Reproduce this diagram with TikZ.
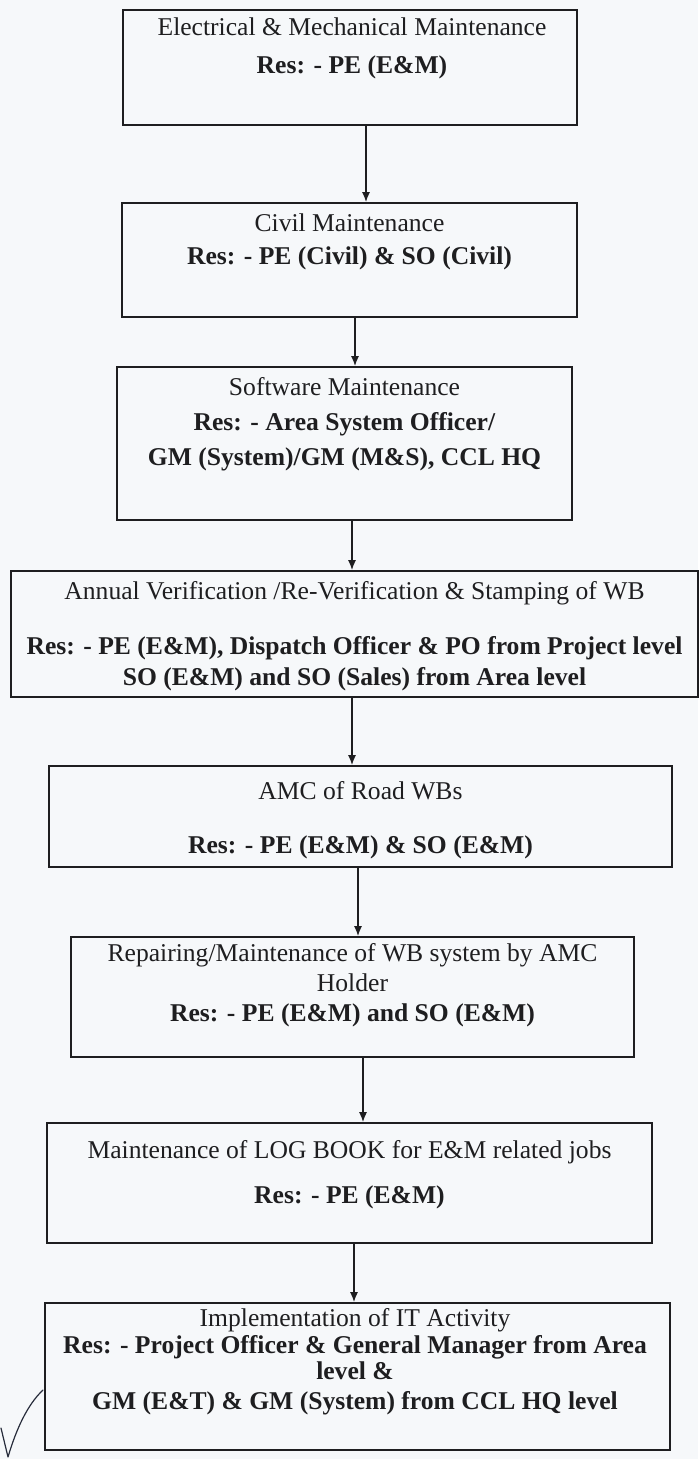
\documentclass[tikz,border=0pt]{standalone}
\usepackage{fontspec}
\setmainfont{Liberation Serif}
\usepackage{tikz}
\usetikzlibrary{arrows.meta,positioning}
\definecolor{scanwhite}{RGB}{246,248,250}
\definecolor{inkblack}{RGB}{30,30,32}
\definecolor{penblue}{RGB}{40,45,60}

\begin{document}
\begin{tikzpicture}[x=0.5pt,y=-0.5pt, >={Latex[length=5pt,width=4pt]}]
  \tikzstyle{stage}=[rectangle, draw=inkblack, line width=0.8pt, inner sep=0pt]
  \tikzstyle{duty}=[align=center, inner sep=0pt, text=inkblack, font=\fontsize{12.8}{14.5}\selectfont]
  \tikzstyle{flow}=[->, draw=inkblack, line width=0.8pt]
  \fill[scanwhite] (0,0) rectangle (698,1459);
  \useasboundingbox (0,0) rectangle (698,1459);
  % boxes
  \node[stage, minimum width=227pt, minimum height=57.5pt] (em) at (350,67.5) {};
  \node[stage, minimum width=227.5pt, minimum height=57pt] (civ) at (349.5,260) {};
  \node[stage, minimum width=227.5pt, minimum height=76.5pt] (sw) at (344.5,443.5) {};
  \node[stage, minimum width=343.5pt, minimum height=63pt] (wb) at (354.5,634) {};
  \node[stage, minimum width=311.5pt, minimum height=50.5pt] (amc) at (360.5,816.5) {};
  \node[stage, minimum width=281.5pt, minimum height=60pt] (rep) at (352.5,997) {};
  \node[stage, minimum width=302.5pt, minimum height=60pt] (log) at (349.5,1183) {};
  \node[stage, minimum width=312.5pt, minimum height=73.5pt] (it) at (357.5,1376.5) {};
  % texts
  \node[duty] (em-txt) at (352,48) {Electrical \& Mechanical Maintenance\\[4.5pt]
    \textbf{Res: - PE (E\&M)}};
  \node[duty] (civ-txt) at (349.5,241.5) {Civil Maintenance\\[2pt]
    \textbf{Res: - PE (Civil) \& SO (Civil)}};
  \node[duty] (sw-txt) at (344.5,424.5) {Software Maintenance\\[3pt]
    \textbf{Res: - Area System Officer/}\\[3pt]
    \textbf{GM (System)/GM (M\&S), CCL HQ}};
  \node[duty] (wb-txt) at (354.5,636) {Annual Verification /Re-Verification \& Stamping of WB\\[13pt]
    \textbf{Res: - PE (E\&M), Dispatch Officer \& PO from Project level}\\[1pt]
    \textbf{SO (E\&M) and SO (Sales) from Area level}};
  \node[duty] (amc-txt) at (360.5,820) {AMC of Road WBs\\[12.5pt]
    \textbf{Res: - PE (E\&M) \& SO (E\&M)}};
  \node[duty] (rep-txt) at (352.5,985) {Repairing/Maintenance of WB system by AMC\\[0.5pt]
    Holder\\[0.5pt]
    \textbf{Res: - PE (E\&M) and SO (E\&M)}};
  \node[duty] (log-txt) at (349.5,1174.5) {Maintenance of LOG BOOK for E\&M related jobs\\[8pt]
    \textbf{Res: - PE (E\&M)}};
  \node[duty] (it-txt) at (355,1361.5) {Implementation of IT Activity\\[-1pt]
    \textbf{Res: - Project Officer \& General Manager from Area}\\[-1.5pt]
    \textbf{level \&}\\[0.5pt]
    \textbf{GM (E\&T) \& GM (System) from CCL HQ level}};
  % arrows
  \draw[flow] (366,0 |- em.south) -- (366,0 |- civ.north);
  \draw[flow] (355,0 |- civ.south) -- (355,0 |- sw.north);
  \draw[flow] (352,0 |- sw.south) -- (352,0 |- wb.north);
  \draw[flow] (352,0 |- wb.south) -- (352,0 |- amc.north);
  \draw[flow] (358,0 |- amc.south) -- (358,0 |- rep.north);
  \draw[flow] (363,0 |- rep.south) -- (363,0 |- log.north);
  \draw[flow] (354,0 |- log.south) -- (354,0 |- it.north);
  % tick
  \draw[penblue, line width=0.6pt, line cap=round, line join=round]
    (1,1428) -- (8,1457) .. controls (16,1430) and (27,1405) .. (43,1390);
\end{tikzpicture}
\end{document}
